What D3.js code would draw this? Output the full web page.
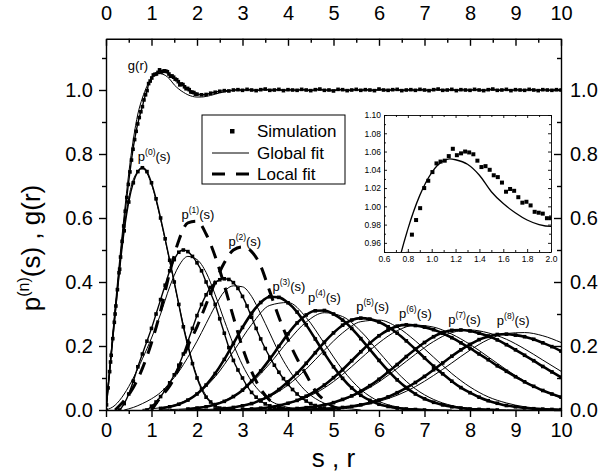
<!DOCTYPE html>
<html><head><meta charset="utf-8">
<script src="https://cdn.jsdelivr.net/npm/d3@7"></script>
<style>
body{margin:0;background:#fff}
text{font-family:"Liberation Sans",Arial,sans-serif;fill:#000}
</style>
</head><body>
<svg id="c" width="606" height="473"></svg>
<script>
// ---------------- data ----------------
const xTickVals=[0,1,2,3,4,5,6,7,8,9,10];
const xMinorVals=[0.5,1.5,2.5,3.5,4.5,5.5,6.5,7.5,8.5,9.5];
const yTickVals=[0,0.2,0.4,0.6,0.8,1.0];
const yMinorVals=[0.1,0.3,0.5,0.7,0.9,1.1];
const insetXTicks=[0.6,0.8,1.0,1.2,1.4,1.6,1.8,2.0];
const insetXMinor=[0.7,0.9,1.1,1.3,1.5,1.7,1.9];
const insetYTicks=[0.96,0.98,1.00,1.02,1.04,1.06,1.08,1.10];
const insetYMinor=[0.95,0.97,0.99,1.01,1.03,1.05,1.07,1.09];

// g(r) simulation
const gSimR=[0.011,0.046,0.08,0.114,0.149,0.183,0.217,0.251,0.286,0.32,0.354,0.389,0.423,0.457,0.491,0.526,0.56,0.594,0.629,0.663,0.697,0.731,0.766,
 0.80,0.834,0.869,0.903,0.937,0.971,1.006,1.04,1.074,1.109,1.143,1.177,1.211,1.246,1.28,1.314,1.349,1.383,1.417,1.451,1.486,1.52,1.554,1.589,1.623,1.657,1.691,1.726,1.76,1.794,1.829,1.863,1.897,1.931,1.966,2.0];
const gSimV=[0.016,0.069,0.12,0.171,0.223,0.274,0.325,0.376,0.429,0.478,0.527,0.575,0.621,0.664,0.705,0.744,0.781,0.815,0.845,0.871,0.894,0.914,0.932,
 0.948,0.969,0.985,0.998,1.020,1.028,1.0375,1.047,1.049,1.050,1.055,1.063,1.056,1.058,1.060,1.059,1.057,1.050,1.043,1.044,1.040,1.034,1.032,1.026,1.016,1.019,1.017,1.010,1.004,1.005,1.001,0.994,0.993,0.992,0.987,0.987];
const gTailStart=2.1, gTailStep=0.1;
const gTailV=[0.985,0.986,0.99,0.993,0.996,0.998,0.997,1.0,1.001,0.999,1.002,1.0,0.998,1.001,1.003,0.999,1.0,1.002,0.998,1.001,
 1.0,0.999,1.002,1.0,0.998,1.001,1.003,0.999,1.0,0.997,1.002,1.001,0.998,1.0,1.002,0.999,1.001,1.0,0.998,1.003,
 1.0,0.999,1.001,1.002,0.998,1.0,1.001,0.999,1.002,1.0,0.998,1.001,1.003,0.999,1.0,1.002,0.998,1.001,1.0,0.999,
 1.002,1.0,0.998,1.001,1.003,0.999,1.0,1.002,0.998,1.001,1.0,0.999,1.002,1.0,0.998,1.001,1.0,0.999,1.001,1.0];
// g(r) global fit
const gFitR=[0,0.1,0.2,0.3,0.4,0.5,0.6,0.7,0.8,0.9,1.0,1.1,1.15,1.2,1.3,1.4,1.5,1.6,1.7,1.8,1.9,2.0,2.1,2.2,2.3,2.4,2.5,2.6,2.7,2.8,2.9,3.0,4,5,6,7,8,9,10];
const gFitV=[0,0.16,0.32,0.47,0.61,0.74,0.845,0.925,0.975,1.012,1.037,1.050,1.052,1.051,1.046,1.034,1.016,1.003,0.993,0.985,0.980,0.978,0.978,0.980,0.983,0.987,0.991,0.994,0.997,0.999,1.0,1.0,1.0,1.0,1.0,1.0,1.0,1.0,1.0];

// p^(n)(s) simulation: start, step, values
const simStart=[0,0.3,0.9,1.2,1.8,2.4,3.0,3.6,4.4];
const simStep=[0.1,0.1,0.1,0.2,0.2,0.2,0.2,0.2,0.2];
const p0Sim=[0,0.15,0.30,0.44,0.56,0.65,0.71,0.745,0.757,0.745,0.71,0.66,0.60,0.535,0.468,0.40,0.33,0.26,0.20,0.145,0.10,0.065,0.04,0.025,0.013,0.006,0.003,0.001,0];
const p1Sim=[0,0.02,0.05,0.09,0.135,0.175,0.215,0.255,0.30,0.345,0.39,0.435,0.47,0.493,0.50,0.495,0.48,0.46,0.435,0.40,0.365,0.33,0.285,0.24,0.195,0.155,0.125,0.10,0.075,0.055,0.04,0.028,0.019,0.013,0.008,0.005,0.003,0.001,0];
const p2Sim=[0,0.012,0.025,0.042,0.062,0.085,0.11,0.14,0.175,0.215,0.255,0.295,0.33,0.36,0.383,0.398,0.407,0.41,0.408,0.398,0.38,0.355,0.325,0.29,0.255,0.222,0.192,0.165,0.14,0.118,0.098,0.08,0.064,0.05,0.038,0.028,0.02,0.014,0.009,0.005,0.002,0];
const p3Sim=[0.005,0.010,0.018,0.031,0.050,0.078,0.114,0.158,0.208,0.258,0.302,0.336,0.354,0.352,0.335,0.306,0.266,0.222,0.177,0.135,0.099,0.069,0.046,0.030,0.018,0.011,0.006,0.003,0.0015,0];
const p4Sim=[0.003,0.006,0.010,0.017,0.027,0.042,0.062,0.090,0.122,0.159,0.199,0.238,0.272,0.297,0.310,0.311,0.300,0.281,0.255,0.223,0.189,0.155,0.123,0.094,0.070,0.050,0.035,0.024,0.016,0.010,0.006,0.003,0.002,0.001,0];
const p5Sim=[0.0026,0.0046,0.008,0.013,0.020,0.031,0.045,0.064,0.088,0.115,0.146,0.179,0.212,0.241,0.265,0.281,0.287,0.284,0.275,0.260,0.240,0.216,0.190,0.163,0.137,0.113,0.090,0.070,0.054,0.040,0.029,0.021,0.014,0.010,0.0065,0.004,0.0027,0.0017,0.001];
const p6Sim=[0.002,0.0033,0.0056,0.0088,0.0138,0.021,0.030,0.043,0.059,0.078,0.101,0.126,0.154,0.182,0.209,0.232,0.250,0.262,0.266,0.264,0.259,0.251,0.240,0.226,0.210,0.193,0.175,0.157,0.138,0.121,0.104,0.088,0.074,0.061,0.050,0.040];
const p7Sim=[0.001,0.0018,0.003,0.0047,0.0073,0.011,0.016,0.023,0.033,0.044,0.059,0.076,0.096,0.119,0.142,0.167,0.190,0.211,0.229,0.242,0.249,0.250,0.247,0.240,0.231,0.219,0.204,0.188,0.171,0.154,0.136,0.119,0.102];
const p8Sim=[0.0014,0.0023,0.0035,0.0053,0.0079,0.011,0.016,0.023,0.031,0.041,0.054,0.069,0.086,0.105,0.126,0.147,0.168,0.188,0.205,0.220,0.230,0.236,0.237,0.234,0.229,0.221,0.210,0.198,0.184];

// p^(n)(s) global fit: start, step, values
const fitStart=[0,0,0.4,0.8,1.2,1.6,2.0,2.8,3.6];
const fitStep=[0.2,0.2,0.2,0.4,0.4,0.4,0.4,0.4,0.4];
const p0Fit=[0,0.31,0.57,0.72,0.755,0.705,0.595,0.465,0.33,0.205,0.105,0.045,0.015,0.004,0];
const p1Fit=[0,0.015,0.05,0.10,0.16,0.225,0.30,0.385,0.45,0.48,0.47,0.43,0.36,0.28,0.205,0.14,0.09,0.055,0.03,0.016,0.008,0.004,0.002,0];
const p2Fit=[0,0.008,0.02,0.035,0.055,0.085,0.12,0.165,0.215,0.27,0.325,0.37,0.388,0.385,0.355,0.30,0.24,0.18,0.13,0.09,0.058,0.036,0.021,0.012,0.006,0.003,0];
const p3Fit=[0.002,0.007,0.020,0.050,0.104,0.183,0.267,0.327,0.336,0.289,0.208,0.126,0.064,0.027,0.0096,0.003,0.001,0];
const p4Fit=[0.0007,0.0024,0.007,0.019,0.043,0.085,0.145,0.215,0.275,0.304,0.292,0.246,0.181,0.117,0.066,0.033,0.014,0.0055,0.002,0.0006,0];
const p5Fit=[0.0003,0.001,0.003,0.0085,0.020,0.042,0.078,0.128,0.187,0.241,0.276,0.281,0.259,0.216,0.165,0.114,0.072,0.041,0.022,0.010,0.0045,0.0018];
const p6Fit=[0.0001,0.0005,0.0014,0.0037,0.009,0.020,0.039,0.069,0.111,0.161,0.210,0.248,0.265,0.259,0.237,0.205,0.166,0.126,0.090,0.060,0.038];
const p7Fit=[0.0002,0.0005,0.0014,0.0034,0.008,0.017,0.031,0.055,0.088,0.130,0.174,0.214,0.242,0.250,0.241,0.221,0.191,0.156,0.121];
const p8Fit=[0.0002,0.0006,0.0014,0.0033,0.0071,0.014,0.027,0.046,0.073,0.108,0.147,0.187,0.220,0.239,0.242,0.232,0.211];

// local fits (p1, p2)
const localStart=[0.2,1.0];
const localStep=[0.2,0.2];
const p1Local=[0,0.03,0.07,0.13,0.21,0.31,0.43,0.53,0.585,0.59,0.55,0.48,0.39,0.29,0.195,0.12,0.065,0.03,0.01,0];
const p2Local=[0,0.04,0.075,0.13,0.20,0.26,0.33,0.40,0.46,0.50,0.51,0.495,0.45,0.37,0.29,0.22,0.16,0.11,0.06,0.03,0.01,0];

// curve labels (data coordinates of text start / baseline)
const curveIdx=["0","1","2","3","4","5","6","7","8"];
const labelX=[0.70,1.66,2.69,3.66,4.44,5.50,6.44,7.52,8.59];
const labelY=[0.778,0.597,0.512,0.372,0.336,0.309,0.286,0.270,0.266];
const gLabelPos=[0.48,1.062];
const legendLabels=["Simulation","Global fit","Local fit"];

// ---------------- drawing ----------------
const svg=d3.select("#c");
const x=d3.scaleLinear([0,10],[106,561]);
const y=d3.scaleLinear([0,1.16],[410,38.8]);
const ix=d3.scaleLinear([0.6,2.0],[384,551]);
const iy=d3.scaleLinear([0.95,1.10],[252,115]);

const pts=(start,step,vals)=>vals.map((v,i)=>[start+i*step,v]);
const sims=[p0Sim,p1Sim,p2Sim,p3Sim,p4Sim,p5Sim,p6Sim,p7Sim,p8Sim].map((v,i)=>pts(simStart[i],simStep[i],v));
const fits=[p0Fit,p1Fit,p2Fit,p3Fit,p4Fit,p5Fit,p6Fit,p7Fit,p8Fit].map((v,i)=>pts(fitStart[i],fitStep[i],v));
const locals=[p1Local,p2Local].map((v,i)=>pts(localStart[i],localStep[i],v));
const gSim=gSimR.map((r,i)=>[r,gSimV[i]]).concat(pts(gTailStart,gTailStep,gTailV));
const gFit=gFitR.map((r,i)=>[r,gFitV[i]]);

svg.append("defs").append("clipPath").attr("id","clipMain").append("rect")
  .attr("x",x(0)).attr("y",y(1.16)).attr("width",x(10)-x(0)).attr("height",y(0)-y(1.16));
svg.select("defs").append("clipPath").attr("id","clipIn").append("rect")
  .attr("x",ix(0.6)).attr("y",iy(1.10)).attr("width",ix(2.0)-ix(0.6)).attr("height",iy(0.95)-iy(1.10));

const plot=svg.append("g").attr("clip-path","url(#clipMain)");
const line=d3.line().x(d=>x(d[0])).y(d=>y(d[1])).curve(d3.curveMonotoneX);

// global fits
fits.concat([gFit]).forEach(d=>{
  plot.append("path").attr("d",line(d)).attr("fill","none").attr("stroke","#000").attr("stroke-width",1);
});
// local fits
locals.forEach(d=>{
  plot.append("path").attr("d",line(d)).attr("fill","none").attr("stroke","#000")
    .attr("stroke-width",3).attr("stroke-dasharray","13,9");
});
// simulations
const msz=3.6;
sims.concat([gSim]).forEach((d,k)=>{
  const thick = (k>=3 && k<=8);
  plot.append("path").attr("d",line(d)).attr("fill","none").attr("stroke","#000")
    .attr("stroke-width",thick?2.6:1.4);
  plot.append("g").selectAll("rect").data(d).join("rect")
    .attr("x",p=>x(p[0])-msz/2).attr("y",p=>y(p[1])-msz/2)
    .attr("width",msz).attr("height",msz).attr("fill","#000");
});

// axes
const fmt1=d3.format(".1f");
function styleAxis(g,fs){
  g.selectAll("path,line").attr("stroke","#000").attr("stroke-width",1.4);
  g.selectAll("text").attr("font-size",fs).attr("fill","#000").attr("font-family",'"Liberation Sans",Arial,sans-serif');
}
const fsTick=20;
svg.append("g").attr("transform",`translate(0,${y(0)})`)
  .call(d3.axisBottom(x).tickValues(xTickVals).tickSizeInner(7).tickSizeOuter(0).tickPadding(6).tickFormat(d3.format("d")))
  .call(g=>styleAxis(g,fsTick));
svg.append("g").attr("transform",`translate(0,${y(0)})`)
  .call(d3.axisBottom(x).tickValues(xMinorVals).tickSize(4).tickFormat(""))
  .call(g=>{styleAxis(g,fsTick);g.select(".domain").remove();});
svg.append("g").attr("transform",`translate(0,${y(1.16)})`)
  .call(d3.axisTop(x).tickValues(xTickVals).tickSizeInner(-7).tickSizeOuter(0).tickPadding(19).tickFormat(d3.format("d")))
  .call(g=>styleAxis(g,fsTick));
svg.append("g").attr("transform",`translate(0,${y(1.16)})`)
  .call(d3.axisTop(x).tickValues(xMinorVals).tickSize(-4).tickFormat(""))
  .call(g=>{styleAxis(g,fsTick);g.select(".domain").remove();});
svg.append("g").attr("transform",`translate(${x(0)},0)`)
  .call(d3.axisLeft(y).tickValues(yTickVals).tickSizeInner(7).tickSizeOuter(0).tickPadding(6).tickFormat(fmt1))
  .call(g=>styleAxis(g,fsTick));
svg.append("g").attr("transform",`translate(${x(0)},0)`)
  .call(d3.axisLeft(y).tickValues(yMinorVals).tickSize(4).tickFormat(""))
  .call(g=>{styleAxis(g,fsTick);g.select(".domain").remove();});
svg.append("g").attr("transform",`translate(${x(10)},0)`)
  .call(d3.axisRight(y).tickValues(yTickVals).tickSizeInner(-7).tickSizeOuter(0).tickPadding(9).tickFormat(fmt1))
  .call(g=>styleAxis(g,fsTick));
svg.append("g").attr("transform",`translate(${x(10)},0)`)
  .call(d3.axisRight(y).tickValues(yMinorVals).tickSize(-4).tickFormat(""))
  .call(g=>{styleAxis(g,fsTick);g.select(".domain").remove();});

// axis titles
svg.append("text").attr("x",(x(0)+x(10))/2).attr("y",467).attr("text-anchor","middle")
  .attr("font-size",26).text("s , r");
const yt=svg.append("text").attr("transform","translate(40,248) rotate(-90)").attr("text-anchor","middle").attr("font-size",26);
yt.append("tspan").text("p");
yt.append("tspan").attr("font-size",16).attr("dy",-11).text("(n)");
yt.append("tspan").attr("dy",11).text("(s) , g(r)");

// curve labels
curveIdx.forEach((n,i)=>{
  const t=svg.append("text").attr("x",x(labelX[i])).attr("y",y(labelY[i])).attr("font-size",13);
  t.append("tspan").text("p");
  t.append("tspan").attr("font-size",8.5).attr("dy",-6).text(`(${n})`);
  t.append("tspan").attr("dy",6).text("(s)");
});
svg.append("text").attr("x",x(gLabelPos[0])).attr("y",y(gLabelPos[1])).attr("font-size",13).text("g(r)");

// legend
const lg=svg.append("g");
lg.append("rect").attr("x",202).attr("y",115).attr("width",143).attr("height",69)
  .attr("fill","#fff").attr("stroke","#000").attr("stroke-width",1);
lg.append("rect").attr("x",230).attr("y",129).attr("width",4.5).attr("height",4.5).attr("fill","#000");
lg.append("line").attr("x1",212).attr("x2",249).attr("y1",153).attr("y2",153).attr("stroke","#000").attr("stroke-width",1);
lg.append("line").attr("x1",212).attr("x2",249).attr("y1",174).attr("y2",174).attr("stroke","#000").attr("stroke-width",3).attr("stroke-dasharray","13,11");
legendLabels.forEach((t,i)=>{
  lg.append("text").attr("x",257).attr("y",[137,159,180][i]).attr("font-size",17).text(t);
});

// inset
const ins=svg.append("g");
ins.append("rect").attr("x",ix(0.6)).attr("y",iy(1.10)).attr("width",ix(2.0)-ix(0.6)).attr("height",iy(0.95)-iy(1.10))
  .attr("fill","#fff");
const ip=ins.append("g").attr("clip-path","url(#clipIn)");
const iline=d3.line().x(d=>ix(d[0])).y(d=>iy(d[1])).curve(d3.curveMonotoneX);
ip.append("path").attr("d",iline(gFit)).attr("fill","none").attr("stroke","#000").attr("stroke-width",1.3);
ip.append("g").selectAll("rect").data(gSim.filter(d=>d[0]>=0.6&&d[0]<=2.0)).join("rect")
  .attr("x",d=>ix(d[0])-2).attr("y",d=>iy(d[1])-2).attr("width",4).attr("height",4).attr("fill","#000");
function styleIn(g){
  g.selectAll("path,line").attr("stroke","#000").attr("stroke-width",0.9);
  g.selectAll("text").attr("font-size",8.5).attr("fill","#222").attr("font-family",'"Liberation Sans",Arial,sans-serif');
}
const fmt2=d3.format(".2f");
ins.append("g").attr("transform",`translate(0,${iy(0.95)})`)
  .call(d3.axisBottom(ix).tickValues(insetXTicks).tickSizeInner(-3).tickSizeOuter(0).tickPadding(4).tickFormat(fmt1)).call(styleIn);
ins.append("g").attr("transform",`translate(0,${iy(0.95)})`)
  .call(d3.axisBottom(ix).tickValues(insetXMinor).tickSize(-2).tickFormat("")).call(g=>{styleIn(g);g.select(".domain").remove();});
ins.append("g").attr("transform",`translate(0,${iy(1.10)})`)
  .call(d3.axisTop(ix).tickValues(insetXTicks).tickSizeInner(-3).tickSizeOuter(0).tickFormat("")).call(styleIn);
ins.append("g").attr("transform",`translate(0,${iy(1.10)})`)
  .call(d3.axisTop(ix).tickValues(insetXMinor).tickSize(-2).tickFormat("")).call(g=>{styleIn(g);g.select(".domain").remove();});
ins.append("g").attr("transform",`translate(${ix(0.6)},0)`)
  .call(d3.axisLeft(iy).tickValues(insetYTicks).tickSizeInner(-3).tickSizeOuter(0).tickPadding(3).tickFormat(fmt2)).call(styleIn);
ins.append("g").attr("transform",`translate(${ix(0.6)},0)`)
  .call(d3.axisLeft(iy).tickValues(insetYMinor).tickSize(-2).tickFormat("")).call(g=>{styleIn(g);g.select(".domain").remove();});
ins.append("g").attr("transform",`translate(${ix(2.0)},0)`)
  .call(d3.axisRight(iy).tickValues(insetYTicks).tickSizeInner(-3).tickSizeOuter(0).tickFormat("")).call(styleIn);
ins.append("g").attr("transform",`translate(${ix(2.0)},0)`)
  .call(d3.axisRight(iy).tickValues(insetYMinor).tickSize(-2).tickFormat("")).call(g=>{styleIn(g);g.select(".domain").remove();});
</script>
</body></html>
